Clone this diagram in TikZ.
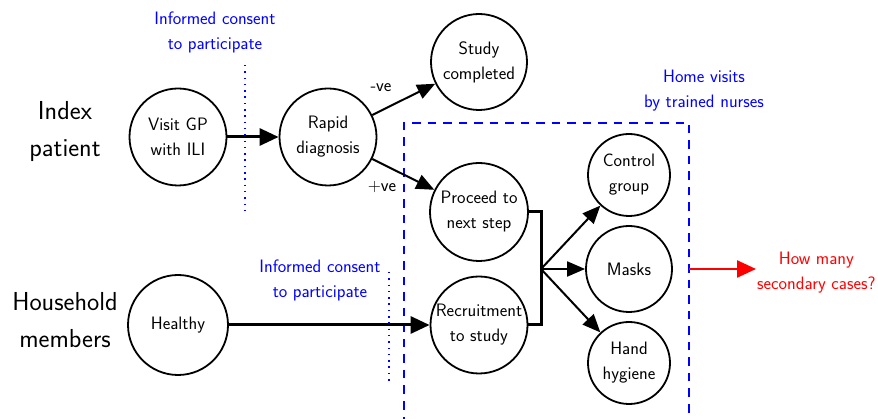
\documentclass[tikz,border=0pt]{standalone}
\usetikzlibrary{arrows.meta}
\begin{document}
\begin{tikzpicture}[x=1pt,y=-1pt,
  font=\sffamily\fontsize{18}{25}\selectfont,
  circ/.style={circle, draw, line width=1.8pt, align=center, inner sep=0pt},
  thickarrow/.style={line width=3pt, -{Triangle[length=19pt,width=17pt]}},
  thinarrow/.style={line width=2pt, -{Triangle[length=18pt,width=15pt]}},
  bluetext/.style={text=blue, align=center},
  bigtext/.style={font=\sffamily\fontsize{26}{37}\selectfont, align=center},
  dotline/.style={blue, line width=1.5pt, dash pattern=on 1.5pt off 4.8pt},
  dashbox/.style={blue, line width=1.3pt, dash pattern=on 8.5pt off 7pt}]
\useasboundingbox (0,0) rectangle (878,419);

% row labels
\node[bigtext] (index) at (65,132) {Index\\patient};
\node[bigtext] (house) at (65,320) {Household\\members};

% circles
\node[circ, minimum size=97pt] (visit) at (178,137) {Visit GP\\with ILI};
\node[circ, minimum size=97pt] (rapid) at (328,137) {Rapid\\diagnosis};
\node[circ, minimum size=96pt] (study) at (479,62) {Study\\completed};
\node[circ, minimum size=98pt] (proceed) at (479,212) {Proceed to\\next step};
\node[circ, minimum size=97pt] (recruit) at (479,325) {Recruitment\\to study};
\node[circ, minimum size=100pt] (healthy) at (178,325) {Healthy};
\node[circ, minimum size=82pt] (control) at (629,175) {Control\\group};
\node[circ, minimum size=86pt] (masks) at (629,269) {Masks};
\node[circ, minimum size=82pt] (hand) at (629,363) {Hand\\hygiene};

% blue annotations
\node[bluetext] (ic1) at (215,32) {Informed consent\\to participate};
\node[bluetext] (ic2) at (320,280) {Informed consent\\to participate};
\node[bluetext] (hv) at (704,91) {Home visits\\by trained nurses};

% dotted lines
\coordinate (d1a) at (245,65);
\coordinate (d1b) at (245,213);
\coordinate (d2a) at (389,272);
\coordinate (d2b) at (389,383);
\draw[dotline] (d1a) -- (d1b);
\draw[dotline] (d2a) -- (d2b);

% dashed box
\coordinate (bl) at (404,425);
\coordinate (tl) at (404,123);
\coordinate (tr) at (689,123);
\coordinate (brr) at (689,425);
\draw[dashbox] (bl) -- (tl) -- (tr) -- (brr);

% connectors
\draw[thickarrow] (visit) -- (rapid);
\draw[thinarrow] (rapid) -- (study);
\node (neg) at (381,88) {-ve};
\draw[thinarrow] (rapid) -- (proceed);
\node (pos) at (382,187) {+ve};
\draw[thickarrow] (healthy) -- (recruit);

\coordinate (br) at (541,269);
\draw[line width=3pt, line join=miter] (proceed.east) -| (br) |- (recruit.east);
\draw[thinarrow] (br) -- (control);
\draw[thinarrow] (br) -- (masks);
\draw[thinarrow] (br) -- (hand);

% outcome
\node[text=red, align=center, anchor=west, inner sep=1pt] (q) at (756,273) {How many\\secondary cases?};
\coordinate (rs) at (689,269);
\draw[red, line width=2.5pt, -{Triangle[length=19pt,width=17pt]}] (rs) -- (q.west |- rs);
\end{tikzpicture}
\end{document}
